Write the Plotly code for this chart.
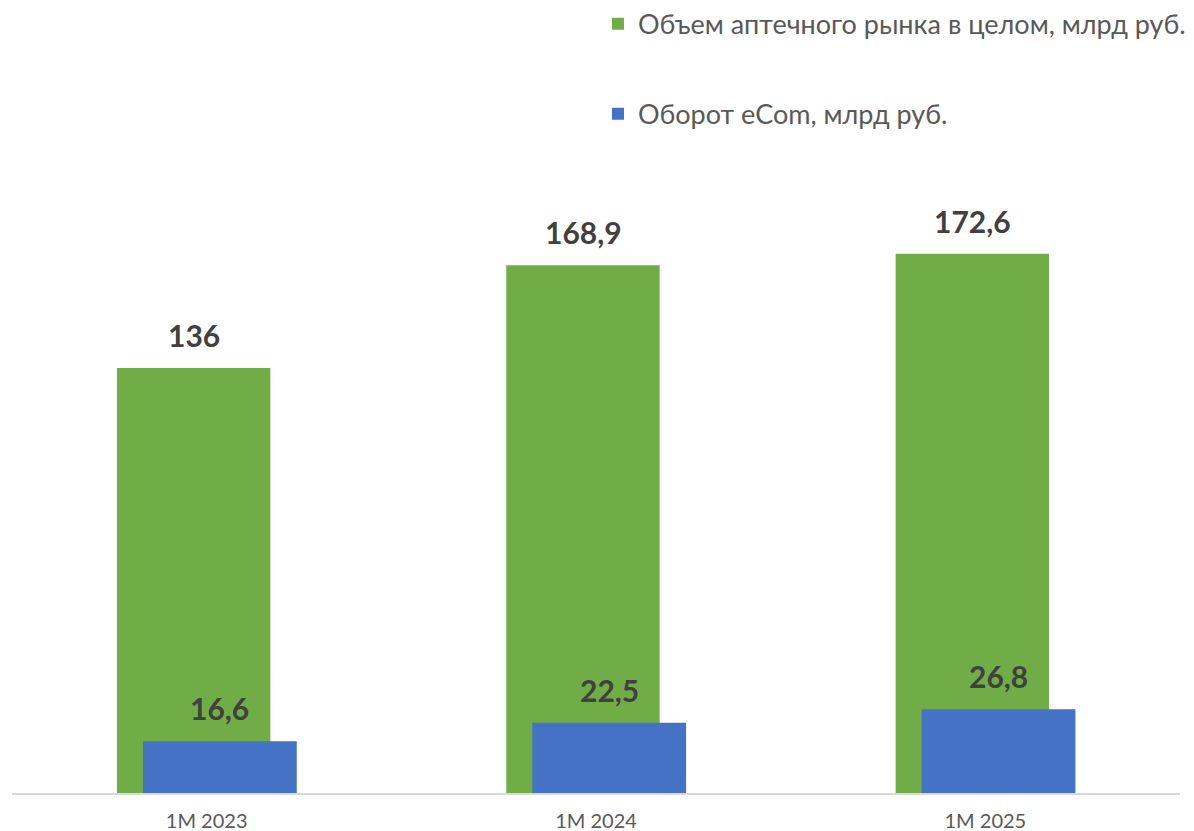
import plotly.graph_objects as go

categories = ["1M 2023", "1M 2024", "1M 2025"]
market_values = [136, 168.9, 172.6]
ecom_values = [16.6, 22.5, 26.8]
market_labels = ["136", "168,9", "172,6"]
ecom_labels = ["16,6", "22,5", "26,8"]

FONT = "Lato, 'Open Sans', sans-serif"
label_font = dict(family=FONT, size=30, color="#404040")

W_MARKET, OFF_MARKET = 0.394, -0.2304
W_ECOM, OFF_ECOM = 0.395, -0.1636

fig = go.Figure()
fig.add_trace(go.Bar(
    x=categories, y=market_values, name="Объем аптечного рынка в целом, млрд руб.",
    marker=dict(color="#70ad47", line=dict(width=0)),
    width=W_MARKET, offset=OFF_MARKET, legendgroup="a",
))
fig.add_trace(go.Bar(
    x=categories, y=ecom_values, name="Оборот eCom, млрд руб.",
    marker=dict(color="#4472c4", line=dict(width=0)),
    width=W_ECOM, offset=OFF_ECOM, legendgroup="b",
))

annotations = []
for i, (v, t) in enumerate(zip(market_values, market_labels)):
    annotations.append(dict(x=i + OFF_MARKET + W_MARKET / 2, y=v, xref="x", yref="y",
                            text=f"<b>{t}</b>", showarrow=False, yanchor="bottom",
                            yshift=13, font=label_font))
for i, (v, t) in enumerate(zip(ecom_values, ecom_labels)):
    annotations.append(dict(x=i + OFF_ECOM + W_ECOM / 2, y=v, xref="x", yref="y",
                            text=f"<b>{t}</b>", showarrow=False, yanchor="bottom",
                            yshift=13, font=label_font))

fig.update_layout(
    width=1194, height=831,
    barmode="overlay",
    plot_bgcolor="white", paper_bgcolor="white",
    margin=dict(l=4, r=22, t=142, b=46, autoexpand=False),
    font=dict(family=FONT, color="#595959"),
    showlegend=True,
    annotations=annotations,
    legend=dict(
        x=0.5017, xanchor="left", y=1.2338, yanchor="top", yref="paper",
        font=dict(size=27, color="#595959"),
        tracegroupgap=52, traceorder="grouped",
        bgcolor="rgba(0,0,0,0)",
    ),
    xaxis=dict(
        range=[-0.5, 2.5], showgrid=False, showline=True, linecolor="#d9d9d9", linewidth=2,
        ticks="", tickfont=dict(size=20, color="#595959"), ticklabelstandoff=9,
    ),
    yaxis=dict(range=[0, 205.8], visible=False, showgrid=False, zeroline=False),
)

fig.write_html("out.html")
